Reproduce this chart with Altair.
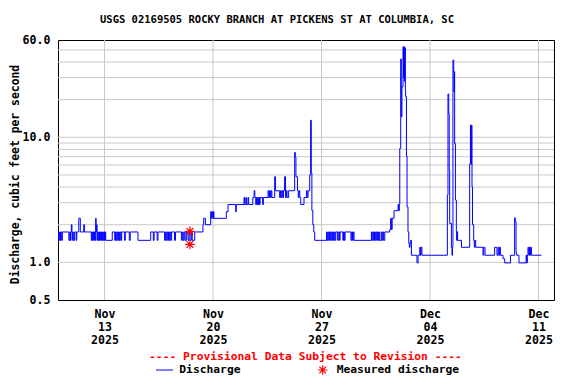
import altair as alt
import pandas as pd

TITLE = "USGS 02169505 ROCKY BRANCH AT PICKENS ST AT COLUMBIA, SC"
Y_TITLE = "Discharge, cubic feet per second"
PROVISIONAL = "---- Provisional Data Subject to Revision ----"
LEGEND_LINE = "Discharge"
LEGEND_POINT = "Measured discharge"

START = "2025-11-10"
END = "2025-12-12"

# Discharge (cfs), step series; time as days since START
seg_a_days = [0.00, 0.04, 0.08, 0.12, 0.16, 0.20, 0.25, 0.28,
              0.70, 0.76, 0.80, 0.84, 0.86, 0.90, 0.94, 1.02, 1.04, 1.08, 1.18, 1.21,
              1.34, 1.44, 1.66, 1.70,
              2.15, 2.19, 2.23, 2.27, 2.31, 2.35, 2.39, 2.43, 2.46, 2.49, 2.52, 2.56,
              2.60, 2.64, 2.68, 2.72, 2.76, 2.80, 2.84, 2.88, 2.92, 2.96, 3.00, 3.04,
              3.08, 3.50, 3.66, 3.71, 3.76, 3.81, 3.86, 3.91, 3.96, 4.01, 4.06, 4.11,
              4.30, 4.34, 4.60, 4.66, 5.16, 5.98, 6.15, 6.20, 6.40, 6.45,
              6.88, 6.93, 6.98, 7.03, 7.08, 7.13, 7.18, 7.23, 7.28, 7.33, 7.52, 7.58,
              7.96, 8.02, 8.08, 8.14, 8.20, 8.28, 8.39, 8.45, 8.52, 8.60, 8.66, 8.82]
seg_a_cfs = [1.5, 1.75, 1.5, 1.75, 1.5, 1.75, 1.5, 1.75,
             1.5, 1.75, 1.5, 1.75, 2.0, 1.75, 1.5, 1.75, 1.5, 1.75, 1.5, 1.75,
             2.25, 1.75, 2.0, 1.75,
             1.5, 1.75, 1.5, 1.75, 1.5, 1.75, 1.5, 2.25, 1.75, 2.0, 1.5, 1.75,
             1.5, 1.75, 1.5, 1.75, 1.5, 1.75, 1.5, 1.75, 1.5, 1.75, 1.5, 1.75,
             1.5, 1.75, 1.5, 1.75, 1.5, 1.75, 1.5, 1.75, 1.5, 1.75, 1.5, 1.75,
             1.5, 1.75, 1.5, 1.75, 1.5, 1.75, 1.5, 1.75, 1.5, 1.75,
             1.5, 1.75, 1.5, 1.75, 1.5, 1.75, 1.5, 1.75, 1.5, 1.75, 1.5, 1.75,
             1.5, 1.75, 1.5, 1.75, 1.5, 1.75, 1.5, 1.75, 1.5, 1.75, 1.5, 1.75]

seg_b_days = [9.35, 9.40, 9.51, 9.85, 9.90, 9.95, 10.00, 10.03, 10.06, 10.86, 10.97, 11.46, 11.50,
              12.00, 12.04, 12.12, 12.16, 12.26, 12.30, 12.57, 12.65, 12.70, 12.76, 12.80, 12.84,
              12.88, 12.92, 12.96, 13.00, 13.04,
              13.20, 13.25, 13.55, 13.60, 13.65, 13.70, 13.75, 13.80, 13.98, 14.03,
              14.30, 14.35, 14.40, 14.45, 14.50, 14.55, 14.62, 14.68, 14.73, 14.78, 14.88,
              15.27, 15.31, 15.35, 15.45, 15.50, 15.55, 15.60, 15.66, 15.87, 16.03, 16.08, 16.13,
              16.24, 16.30, 16.34, 16.38, 16.44, 16.50, 16.56]
seg_b_cfs = [2.0, 2.25, 2.0, 2.54, 2.25, 2.54, 2.25, 2.54, 2.25, 2.54, 2.9, 2.54, 2.9,
             3.3, 2.9, 3.3, 2.9, 3.3, 2.9, 3.3, 3.74, 3.3, 2.9, 3.3, 2.9,
             3.3, 2.9, 3.3, 2.9, 3.3,
             2.9, 3.3, 3.74, 3.3, 3.74, 3.3, 3.74, 3.3, 4.84, 3.74,
             3.3, 3.74, 3.3, 3.74, 3.3, 3.74, 4.84, 3.3, 3.74, 3.3, 3.74,
             7.58, 6.98, 4.84, 3.74, 3.3, 3.74, 3.3, 2.9, 3.3, 3.74, 3.3, 3.74,
             5.0, 13.7, 5.2, 2.6, 2.0, 1.75, 1.5]

seg_c_days = [17.32, 17.37, 17.42, 17.47, 17.52, 17.57, 17.62, 17.67, 17.72, 17.77, 17.82, 17.87, 17.92,
              18.04, 18.08, 18.16, 18.20, 18.38, 18.42, 18.48, 18.52, 18.90, 18.95, 19.00, 19.05, 19.10,
              20.22, 20.27, 20.32, 20.37, 20.42, 20.47, 20.52, 20.57, 20.62, 20.67, 20.72, 20.76,
              20.86, 20.91, 20.96, 21.01, 21.08, 21.40, 21.46, 21.51, 21.56, 21.68, 21.94, 21.98, 22.02]
seg_c_cfs = [1.75, 1.5, 1.75, 1.5, 1.75, 1.5, 1.75, 1.5, 1.75, 1.5, 1.75, 1.5, 1.75,
             1.5, 1.75, 1.5, 1.75, 1.5, 1.75, 1.5, 1.75, 1.5, 1.75, 1.5, 1.75, 1.5,
             1.75, 1.5, 1.75, 1.5, 1.75, 1.5, 1.75, 1.5, 1.75, 1.5, 1.75, 1.5,
             1.75, 1.5, 1.75, 1.5, 1.75, 1.83, 2.25, 1.83, 2.25, 2.59, 2.91, 2.59, 2.91]

seg_d_days = [22.05, 22.11, 22.15, 22.19, 22.26, 22.29, 22.32, 22.35, 22.38, 22.41, 22.43, 22.48, 22.52, 22.58,
              22.63, 22.67, 22.71, 22.75, 22.80, 23.16, 23.23, 23.34, 23.38, 23.42, 23.48,
              25.12, 25.16, 25.21, 25.24, 25.27, 25.38, 25.42, 25.45, 25.48, 25.53, 25.55, 25.57, 25.59, 25.64,
              25.70, 25.72, 25.75, 25.78, 26.03,
              26.56, 26.61, 26.64, 26.67, 26.71, 26.74, 26.82, 26.86, 26.90, 26.95]
seg_d_cfs = [8.15, 42.3, 14.6, 25.4, 53.0, 30.0, 53.0, 28.0, 52.0, 23.9, 21.1, 7.08, 2.78, 1.75,
             1.42, 1.32, 1.42, 1.5, 1.14, 0.99, 1.14, 1.32, 1.14, 1.32, 1.14,
             3.45, 22.2, 15.5, 5.47, 2.05, 1.32, 1.14, 1.32, 41.5, 33.5, 23.1, 33.5, 8.94, 3.15,
             1.76, 1.5, 1.76, 1.5, 1.32,
             6.1, 12.5, 6.1, 12.5, 4.0, 2.0, 1.5, 1.32, 1.5, 1.32]

seg_e_days = [27.42, 27.47, 27.55, 28.17, 28.32, 28.39, 28.44, 28.49, 28.54, 28.71, 28.82, 29.19,
              29.46, 29.50, 29.55, 29.59, 29.74, 30.20, 30.24, 30.28, 30.32, 30.37, 30.42, 30.47,
              30.50, 30.54, 31.19]
seg_e_cfs = [1.14, 1.32, 1.14, 1.32, 1.14, 1.32, 1.14, 1.32, 1.14, 1.07, 0.99, 1.14,
             2.27, 2.12, 1.2, 1.14, 0.99, 1.14, 0.99, 1.14, 1.32, 1.14, 1.32, 1.14,
             1.32, 1.14, 1.14]

measured_days = [8.51, 8.51]
measured_cfs = [1.77, 1.39]

x_tick_dates = ["2025-11-13", "2025-11-20", "2025-11-27", "2025-12-04", "2025-12-11"]
y_tick_values = [0.5, 1, 10, 60]
y_grid_values = [1, 2, 3, 4, 5, 6, 7, 8, 9, 10, 20, 30, 40, 50]

FONT = "DejaVu Sans Mono"
BLUE = "#0000ff"
GRID = "#c8c8c8"
ASTERISK = "M-1,0L1,0M0,-1L0,1M-0.7,-0.7L0.7,0.7M-0.7,0.7L0.7,-0.7"

flow_days = seg_a_days + seg_b_days + seg_c_days + seg_d_days + seg_e_days
flow_cfs = seg_a_cfs + seg_b_cfs + seg_c_cfs + seg_d_cfs + seg_e_cfs

base = pd.Timestamp(START)
flow = pd.DataFrame({
    "time": (base + pd.to_timedelta(flow_days, unit="D")).round("min"),
    "cfs": flow_cfs,
})
measured = pd.DataFrame({
    "time": (base + pd.to_timedelta(measured_days, unit="D")).round("min"),
    "cfs": measured_cfs,
})
vgrid_df = pd.DataFrame({"time": pd.to_datetime(x_tick_dates)})
hgrid_df = pd.DataFrame({"cfs": y_grid_values})


def dt(s):
    t = pd.Timestamp(s)
    return alt.DateTime(year=t.year, month=t.month, date=t.day)


xscale = alt.Scale(domain=[dt(START), dt(END)], nice=False)
yscale = alt.Scale(type="log", domain=[0.5, 60], nice=False)

xaxis = alt.Axis(
    values=[dt(s) for s in x_tick_dates],
    labelExpr="[timeFormat(datum.value, '%b'), timeFormat(datum.value, '%d'), timeFormat(datum.value, '%Y')]",
    labelLineHeight=13, labelPadding=8, labelOverlap=False, labelBound=False,
    labelAlign="center", labelBaseline="top", title=None, grid=False, ticks=False, domain=False,
)
yaxis = alt.Axis(
    values=y_tick_values, format=".1f", labelPadding=8, labelOverlap=False,
    title=None, grid=False, ticks=False, domain=False,
)

X = alt.X("time:T", scale=xscale, axis=xaxis)
Y = alt.Y("cfs:Q", scale=yscale, axis=yaxis)

hgrid = alt.Chart(hgrid_df).mark_rule(color=GRID, strokeWidth=1).encode(y=Y)
vgrid = alt.Chart(vgrid_df).mark_rule(color=GRID, strokeWidth=1).encode(x=X)

line = alt.Chart(flow).mark_line(
    color=BLUE, strokeWidth=1, interpolate="step-after"
).encode(x=X, y=Y)

points = alt.Chart(measured).mark_point(
    shape=ASTERISK, size=90, filled=False, color="red", strokeWidth=1.2, opacity=1
).encode(x=X, y=Y)


def text(t, x, y, size=11.3, color="black", align="center", angle=0):
    return alt.Chart(pd.DataFrame({"t": [t]})).mark_text(
        font=FONT, fontWeight="bold", fontSize=size, color=color,
        align=align, baseline="middle", angle=angle,
    ).encode(x=alt.value(x), y=alt.value(y), text="t:N")


title = text(TITLE, 219, -20, size=10.5)
ytitle = text(Y_TITLE, -42.5, 134.5, size=11.4, angle=270)
prov = text(PROVISIONAL, 247.5, 316.5, color="red")
leg_text1 = text(LEGEND_LINE, 121.3, 330, align="left")
leg_text2 = text(LEGEND_POINT, 278.7, 330, align="left")
leg_line = alt.Chart(pd.DataFrame({"a": [0]})).mark_rule(color=BLUE, strokeWidth=1).encode(
    x=alt.value(98), x2=alt.value(115), y=alt.value(330)
)
leg_point = alt.Chart(pd.DataFrame({"a": [0]})).mark_point(
    shape=ASTERISK, size=90, filled=False, color="red", strokeWidth=1.2, opacity=1
).encode(x=alt.value(264.7), y=alt.value(330))

chart = alt.layer(
    hgrid, vgrid, line, points, title, ytitle, prov, leg_line, leg_text1, leg_point, leg_text2
).properties(
    width=496, height=260,
    autosize=alt.AutoSizeParams(type="none"),
    padding={"left": 50, "top": 32, "right": 14, "bottom": 76},
).configure_view(
    stroke="black", strokeWidth=1
).configure_axis(
    labelFont=FONT, labelFontSize=11.6, labelFontWeight="bold", labelColor="black"
)

chart.save("out.html", embed_options={"renderer": "svg", "actions": False})
